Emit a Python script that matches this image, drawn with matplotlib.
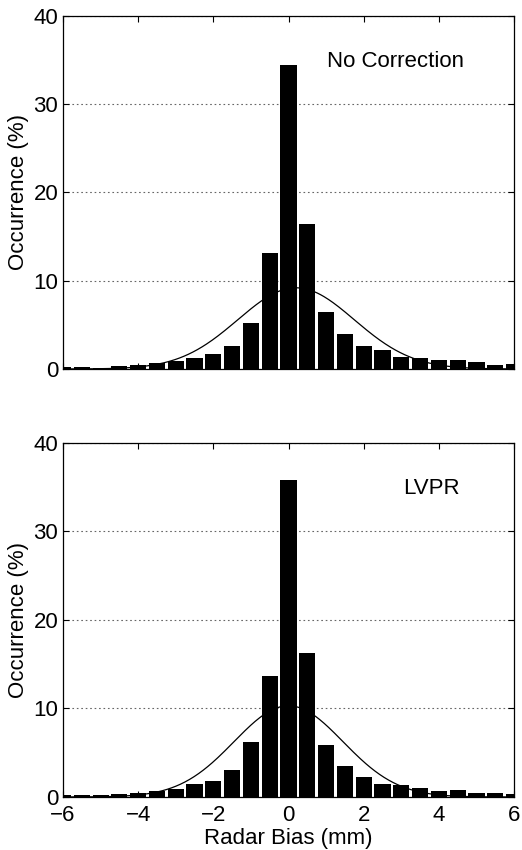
import numpy as np
import matplotlib
matplotlib.use("Agg")
import matplotlib.pyplot as plt

plt.rcParams["font.family"] = ["Liberation Sans", "DejaVu Sans"]
plt.rcParams["font.size"] = 16

# bin centres (mm) shared by both histograms
bias = [-6.0, -5.5, -5.0, -4.5, -4.0, -3.5, -3.0, -2.5, -2.0, -1.5, -1.0, -0.5,
        0.0, 0.5, 1.0, 1.5, 2.0, 2.5, 3.0, 3.5, 4.0, 4.5, 5.0, 5.5, 6.0]

# occurrence (%) without correction
occ_nocorr = [0.2, 0.2, 0.15, 0.35, 0.5, 0.7, 0.9, 1.2, 1.7, 2.6, 5.2, 13.1,
              34.4, 16.4, 6.5, 4.0, 2.6, 2.2, 1.4, 1.3, 1.0, 1.0, 0.75, 0.5, 0.6]

# occurrence (%) after LVPR correction
occ_lvpr = [0.2, 0.2, 0.25, 0.35, 0.45, 0.7, 0.9, 1.45, 1.8, 3.0, 6.2, 13.7,
            35.8, 16.3, 5.9, 3.5, 2.3, 1.5, 1.3, 1.0, 0.65, 0.75, 0.45, 0.45, 0.3]

# fitted normal curves: amplitude (%), mean (mm), std (mm)
fit_nocorr = [9.2, 0.2, 1.55]
fit_lvpr = [10.3, 0.0, 1.45]

labels = ["No Correction", "LVPR"]
label_pos = [(1.03, 34.8), (3.05, 34.9)]

fig = plt.figure(figsize=(5.22, 8.5), dpi=100)
ax1 = fig.add_axes([0.1207, 0.5659, 0.864, 0.4153])
ax2 = fig.add_axes([0.1207, 0.0624, 0.864, 0.4165])

xs = np.linspace(-6, 6, 400)
for ax, occ, fit, lab, pos in zip([ax1, ax2], [occ_nocorr, occ_lvpr],
                                  [fit_nocorr, fit_lvpr], labels, label_pos):
    ax.bar(bias, occ, width=0.43, color="black", edgecolor="none", zorder=2)
    amp, mu, sd = fit
    ax.plot(xs, amp * np.exp(-(xs - mu) ** 2 / (2 * sd ** 2)),
            color="black", lw=0.9, zorder=3)
    ax.set_xlim(-6, 6)
    ax.set_ylim(0, 40)
    ax.set_xticks(range(-6, 7, 2))
    ax.set_yticks(range(0, 41, 10))
    ax.yaxis.grid(True, linestyle=(0, (1.5, 2.5)), color="0.4", lw=0.8, zorder=1)
    ax.tick_params(direction="in", length=4, top=True, right=True, width=0.8)
    ax.tick_params(axis="x", pad=6)
    for s in ax.spines.values():
        s.set_linewidth(0.9)
    ax.set_ylabel("Occurrence (%)", labelpad=3)
    ax.text(pos[0], pos[1], lab, ha="left", va="center")

ax1.set_xticklabels([])
ax2.set_xlabel("Radar Bias (mm)", labelpad=1)

fig.savefig("out.png", dpi=100)
